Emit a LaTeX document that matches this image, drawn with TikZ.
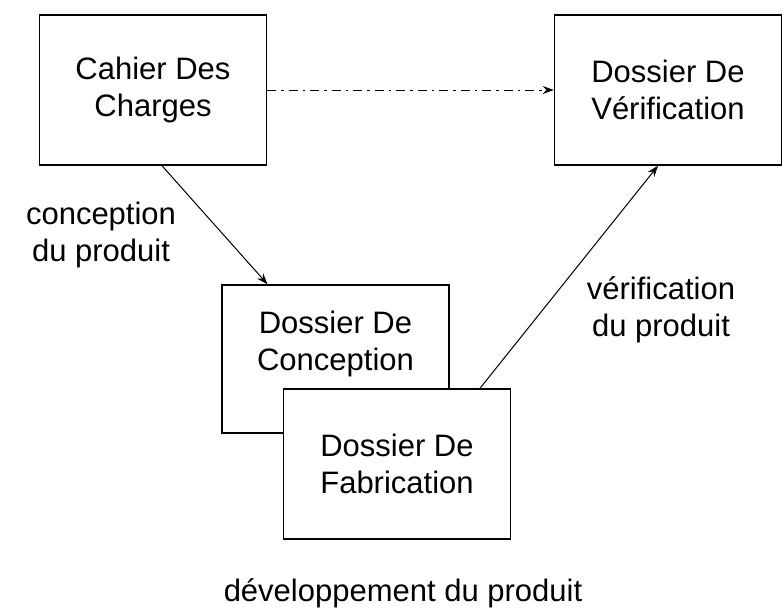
\documentclass[tikz,border=0pt]{standalone}
\usepackage{fontspec}
\setmainfont{Liberation Sans}
\usetikzlibrary{arrows.meta}

\begin{document}
\begin{tikzpicture}[x=1pt,y=-1pt,
    every node/.style={font=\fontsize{31}{36.5}\selectfont,align=center},
    docbox/.style={draw,line width=1.5pt,fill=white,minimum width=227pt,minimum height=150pt,inner sep=0pt},
    flow/.style={-{Stealth[length=11pt,width=8pt]},line width=1pt}]
\useasboundingbox (0,0) rectangle (784,611);

    \node[docbox] (cdc) at (153,90) {Cahier Des\\Charges};
    \node[docbox] (dv) at (668,90) {Dossier De\\V\'erification};
    \node[docbox,minimum height=148pt] (ddc) at (335.5,359) {Dossier De\\Conception\\\mbox{}};
    \node[docbox] (ddf) at (397,464) {Dossier De\\Fabrication};

    \draw[flow,dash pattern=on 9pt off 5pt on 2.5pt off 5pt] (cdc.east) -- (dv.west);

    \draw[flow] ([xshift=9pt]cdc.south) -- ([xshift=-68pt]ddc.north);
    \node (lconc) at (101,235) {conception\\du produit};

    \draw[flow] ([xshift=83pt]ddf.north) -- ([xshift=-10pt]dv.south);
    \node (lverif) at (661,310) {v\'erification\\du produit};

    \node (ldev) at (403,593) {d\'eveloppement du produit};

\end{tikzpicture}
\end{document}
